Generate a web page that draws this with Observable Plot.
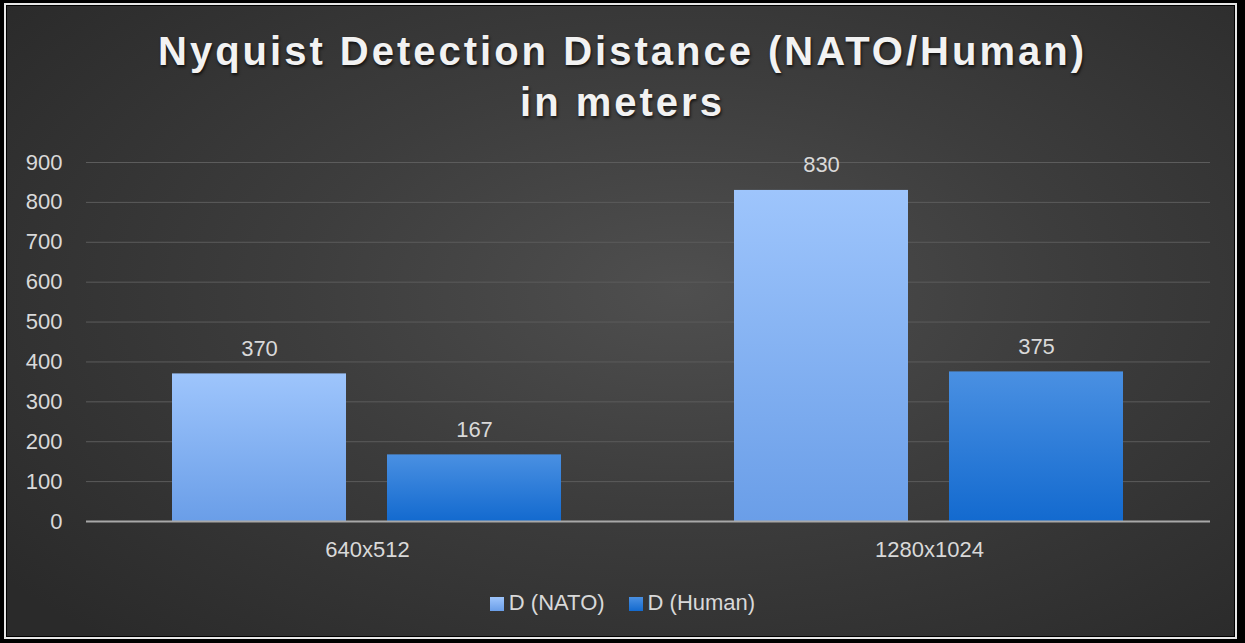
<!DOCTYPE html>
<html>
<head>
<meta charset="utf-8">
<script src="https://cdn.jsdelivr.net/npm/d3@7"></script>
<script src="https://cdn.jsdelivr.net/npm/@observablehq/plot@0.6"></script>
<style>
  html, body { margin: 0; padding: 0; background: #000; }
  #frame { position: absolute; left: 4px; top: 3px; width: 1233px; height: 636px; border: 2px solid #e6e6e6; box-sizing: border-box; background: #000; }
  #panel { position: absolute; left: 1px; top: 1px; right: 1px; bottom: 1px;
    background: radial-gradient(ellipse 70% 75% at 55% 45%, #4f4f4f 0%, #3d3d3d 45%, #2a2a2a 100%); }
  #chart { position: absolute; left: 0; top: 0; }
  #title { position: absolute; left: 0; width: 1245px; top: 26px; text-align: center;
    font-family: "Liberation Sans", Arial, sans-serif; font-weight: bold; font-size: 40px; line-height: 51px;
    letter-spacing: 3px; color: #f2f2f2; text-shadow: 1px 2px 3px rgba(0,0,0,0.7); }
  #legend { position: absolute; left: 0; width: 1245px; top: 590px; text-align: center;
    font-family: "Liberation Sans", Arial, sans-serif; font-size: 22px; color: #d9d9d9; }
  #legend span.item { margin: 0 12px; }
  #legend span.sw { display: inline-block; width: 14px; height: 14px; vertical-align: -1px; margin-right: 5px; }
</style>
</head>
<body>
<div id="frame"><div id="panel"></div></div>
<div id="chart"></div>
<div id="title">Nyquist Detection Distance (NATO/Human)<br>in meters</div>
<div id="legend"></div>
<script>
const categories = ["640x512", "1280x1024"];
const seriesNames = ["D (NATO)", "D (Human)"];
const natoValues = [370, 830];
const humanValues = [167, 375];
const yTicks = [0, 100, 200, 300, 400, 500, 600, 700, 800, 900];

const data = [];
categories.forEach((c, i) => {
  data.push({category: c, series: seriesNames[0], value: natoValues[i]});
  data.push({category: c, series: seriesNames[1], value: humanValues[i]});
});

const NS = "http://www.w3.org/2000/svg";
function defsMark() {
  const defs = document.createElementNS(NS, "defs");
  const grads = [["gNato", "#9ec5fc", "#6a9ee8"], ["gHuman", "#4a90e2", "#136acf"]];
  for (const [id, top, bottom] of grads) {
    const g = document.createElementNS(NS, "linearGradient");
    g.setAttribute("id", id);
    g.setAttribute("x1", "0"); g.setAttribute("y1", "0");
    g.setAttribute("x2", "0"); g.setAttribute("y2", "1");
    const s1 = document.createElementNS(NS, "stop");
    s1.setAttribute("offset", "0"); s1.setAttribute("stop-color", top);
    const s2 = document.createElementNS(NS, "stop");
    s2.setAttribute("offset", "1"); s2.setAttribute("stop-color", bottom);
    g.appendChild(s1); g.appendChild(s2);
    defs.appendChild(g);
  }
  return defs;
}

const chart = Plot.plot({
  width: 1245,
  height: 643,
  marginLeft: 86,
  marginRight: 35,
  marginTop: 162,
  marginBottom: 122,
  style: {background: "transparent", fontFamily: "Liberation Sans, Arial, sans-serif", fontSize: "22px", color: "#d9d9d9"},
  fx: {domain: categories, paddingInner: 0, paddingOuter: 0, label: null, axis: "bottom", tickSize: 0, tickPadding: 20},
  x: {domain: seriesNames, paddingInner: 0.19, paddingOuter: 0.4, axis: null},
  y: {domain: [0, 900], ticks: yTicks, tickSize: 0, tickPadding: 24, label: null, grid: false},
  color: {domain: seriesNames, range: ["url(#gNato)", "url(#gHuman)"]},
  marks: [
    defsMark,
    Plot.gridY(yTicks, {stroke: "#5c5c5c", strokeOpacity: 1, strokeWidth: 1}),
    Plot.barY(data, {fx: "category", x: "series", y: "value", fill: "series"}),
    Plot.ruleY([0], {stroke: "#a8a8a8", strokeWidth: 2}),
    Plot.text(data, {fx: "category", x: "series", y: "value", text: d => String(d.value), dy: -25, fill: "#d9d9d9", fontSize: 22})
  ]
});
document.getElementById("chart").appendChild(chart);

const legend = document.getElementById("legend");
const swatchColors = ["linear-gradient(#9ec5fc, #6a9ee8)", "linear-gradient(#4a90e2, #136acf)"];
seriesNames.forEach((s, i) => {
  const item = document.createElement("span");
  item.className = "item";
  const sw = document.createElement("span");
  sw.className = "sw";
  sw.style.background = swatchColors[i];
  item.appendChild(sw);
  item.appendChild(document.createTextNode(s));
  legend.appendChild(item);
});
</script>
</body>
</html>
